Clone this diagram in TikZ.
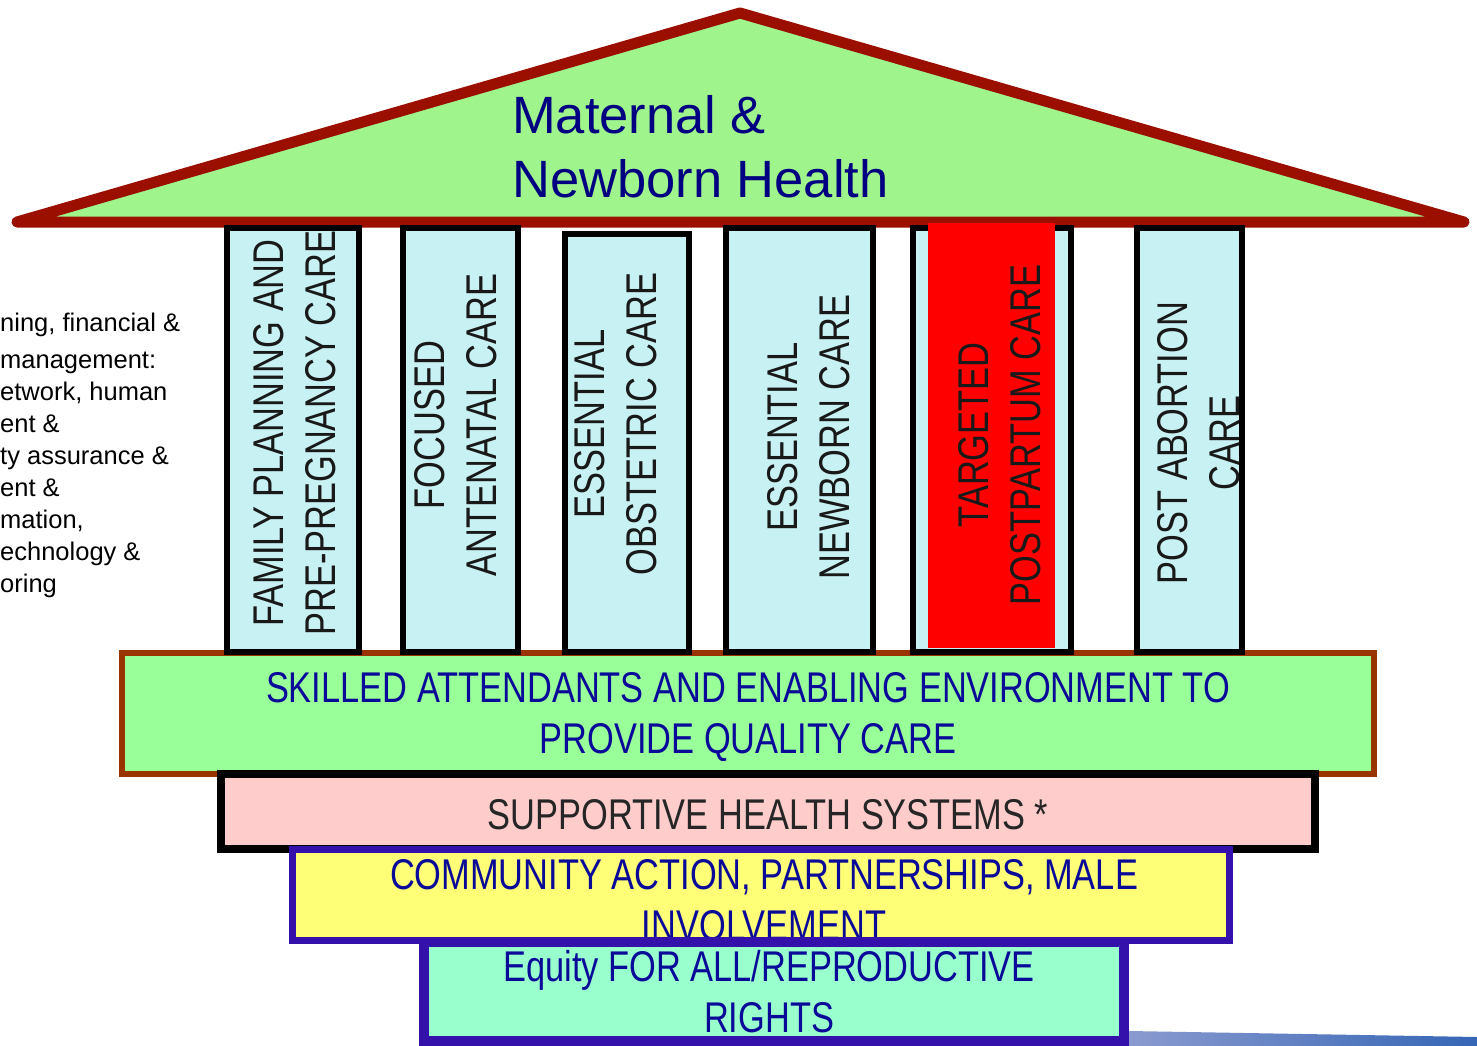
\documentclass[tikz,border=0pt]{standalone}
\usepackage{fontspec}
\setmainfont{Liberation Sans}
\newfontfamily\narrowfont[FakeStretch=0.8]{Liberation Sans}

\definecolor{roofred}{HTML}{9A0F00}
\definecolor{roofgreen}{HTML}{A0F48C}
\definecolor{pillarcyan}{HTML}{C8F1F3}
\definecolor{skillbrown}{HTML}{993300}
\definecolor{skillgreen}{HTML}{99FF99}
\definecolor{supportpink}{HTML}{FFCCCC}
\definecolor{communityblue}{HTML}{3311AA}
\definecolor{communityyellow}{HTML}{FFFF77}
\definecolor{equitygreen}{HTML}{99FFCC}
\definecolor{titlenavy}{HTML}{000080}
\definecolor{tierblue}{HTML}{0A0A99}
\definecolor{stripleft}{HTML}{8A9ACF}
\definecolor{stripright}{HTML}{3566B5}

\begin{document}
\begin{tikzpicture}[x=1pt, y=-1pt,
    roof/.style={draw=roofred, line width=11, line join=round, line cap=round, fill=roofgreen},
    pillar/.style={draw=black, line width=6, fill=pillarcyan, inner sep=0, minimum height=424},
    pillartext/.style={rotate=90, align=center, inner sep=0, text=black!90,
        font={\narrowfont\fontsize{43}{52}\selectfont}},
    tier/.style={inner sep=0},
    tiertext/.style={inner sep=0, align=center, text=tierblue, font={\narrowfont\fontsize{43}{51}\selectfont}},
    sidetext/.style={anchor=base west, inner sep=0, font={\fontsize{25.5}{30}\selectfont}}
]
\useasboundingbox (0,0) rectangle (1477,1046);

% Roof
\draw[roof] (17,222) -- (740,13) -- (1464,222) -- cycle;
\node[anchor=north west, inner sep=0, align=left, text=titlenavy,
    font={\fontsize{52.5}{64}\selectfont}] (title) at (512,95) {Maternal \&\\Newborn Health};

% Side notes, cut at the left edge
\foreach \y/\t [count=\i] in {331/{ning, financial \&}, 368/{management:}, 400/{etwork, human},
    432/{ent \&}, 464/{ty assurance \&}, 496/{ent \&}, 528/{mation,}, 560/{echnology \&}, 592/{oring}}
  \node[sidetext] (side\i) at (0,\y) {\t};

% Floor carrying the pillars
\node[tier, draw=skillbrown, line width=6, fill=skillgreen, minimum width=1252, minimum height=121]
    (skilled) at (748,713.5) {};
\node[tiertext] (skilledtext) at ([yshift=-4pt]skilled.center)
    {SKILLED ATTENDANTS AND ENABLING ENVIRONMENT TO\\PROVIDE QUALITY CARE};

% Pillars
\node[pillar, minimum width=132] (p1) at (293,440) {};
\node[pillar, minimum width=115] (p2) at (460.5,440) {};
\node[pillar, minimum width=124, minimum height=418] (p3) at (627,443) {};
\node[pillar, minimum width=147] (p4) at (799.5,440) {};
\node[pillar, minimum width=158] (p5) at (992,440) {};
\node[pillar, minimum width=105] (p6) at (1189.5,440) {};
\node[fill=red, inner sep=0, minimum width=127, minimum height=425] (redbox) at (991.5,435.5) {};

\node[pillartext] (t1) at (295,433) {FAMILY PLANNING AND\\PRE-PREGNANCY CARE};
\node[pillartext] (t2) at (455.5,425) {FOCUSED\\ANTENATAL CARE};
\node[pillartext] (t3) at (616,424) {ESSENTIAL\\OBSTETRIC CARE};
\node[pillartext] (t4) at (808.5,437) {ESSENTIAL\\NEWBORN CARE};
\node[pillartext] (t5) at (1000,435) {TARGETED\\POSTPARTUM CARE};
\node[pillartext] (t6) at (1199,443) {POST ABORTION\\CARE};

% Steps below
\node[tier, draw=black, line width=8, fill=supportpink, minimum width=1094, minimum height=75]
    (support) at (768,811.5) {};
\node[tiertext, text=black!85] (supporttext) at ([yshift=-3pt]support.center) {SUPPORTIVE HEALTH SYSTEMS *};

\shade[left color=stripleft, right color=stripright] (1129,1031) -- (1477,1037) -- (1477,1046) -- (1129,1046) -- cycle;

\node[tier, draw=communityblue, line width=7, fill=communityyellow, minimum width=937, minimum height=91]
    (community) at (761,895) {};
\node[tiertext] (communitytext) at ([xshift=3pt, yshift=-5pt]community.center)
    {COMMUNITY ACTION, PARTNERSHIPS, MALE\\INVOLVEMENT};

\node[tier, draw=communityblue, line width=10, fill=equitygreen, minimum width=700, minimum height=99]
    (equity) at (774,991.5) {};
\node[tiertext] (equitytext) at ([xshift=-5pt]equity.center) {Equity FOR ALL/REPRODUCTIVE\\RIGHTS};

\end{tikzpicture}
\end{document}
